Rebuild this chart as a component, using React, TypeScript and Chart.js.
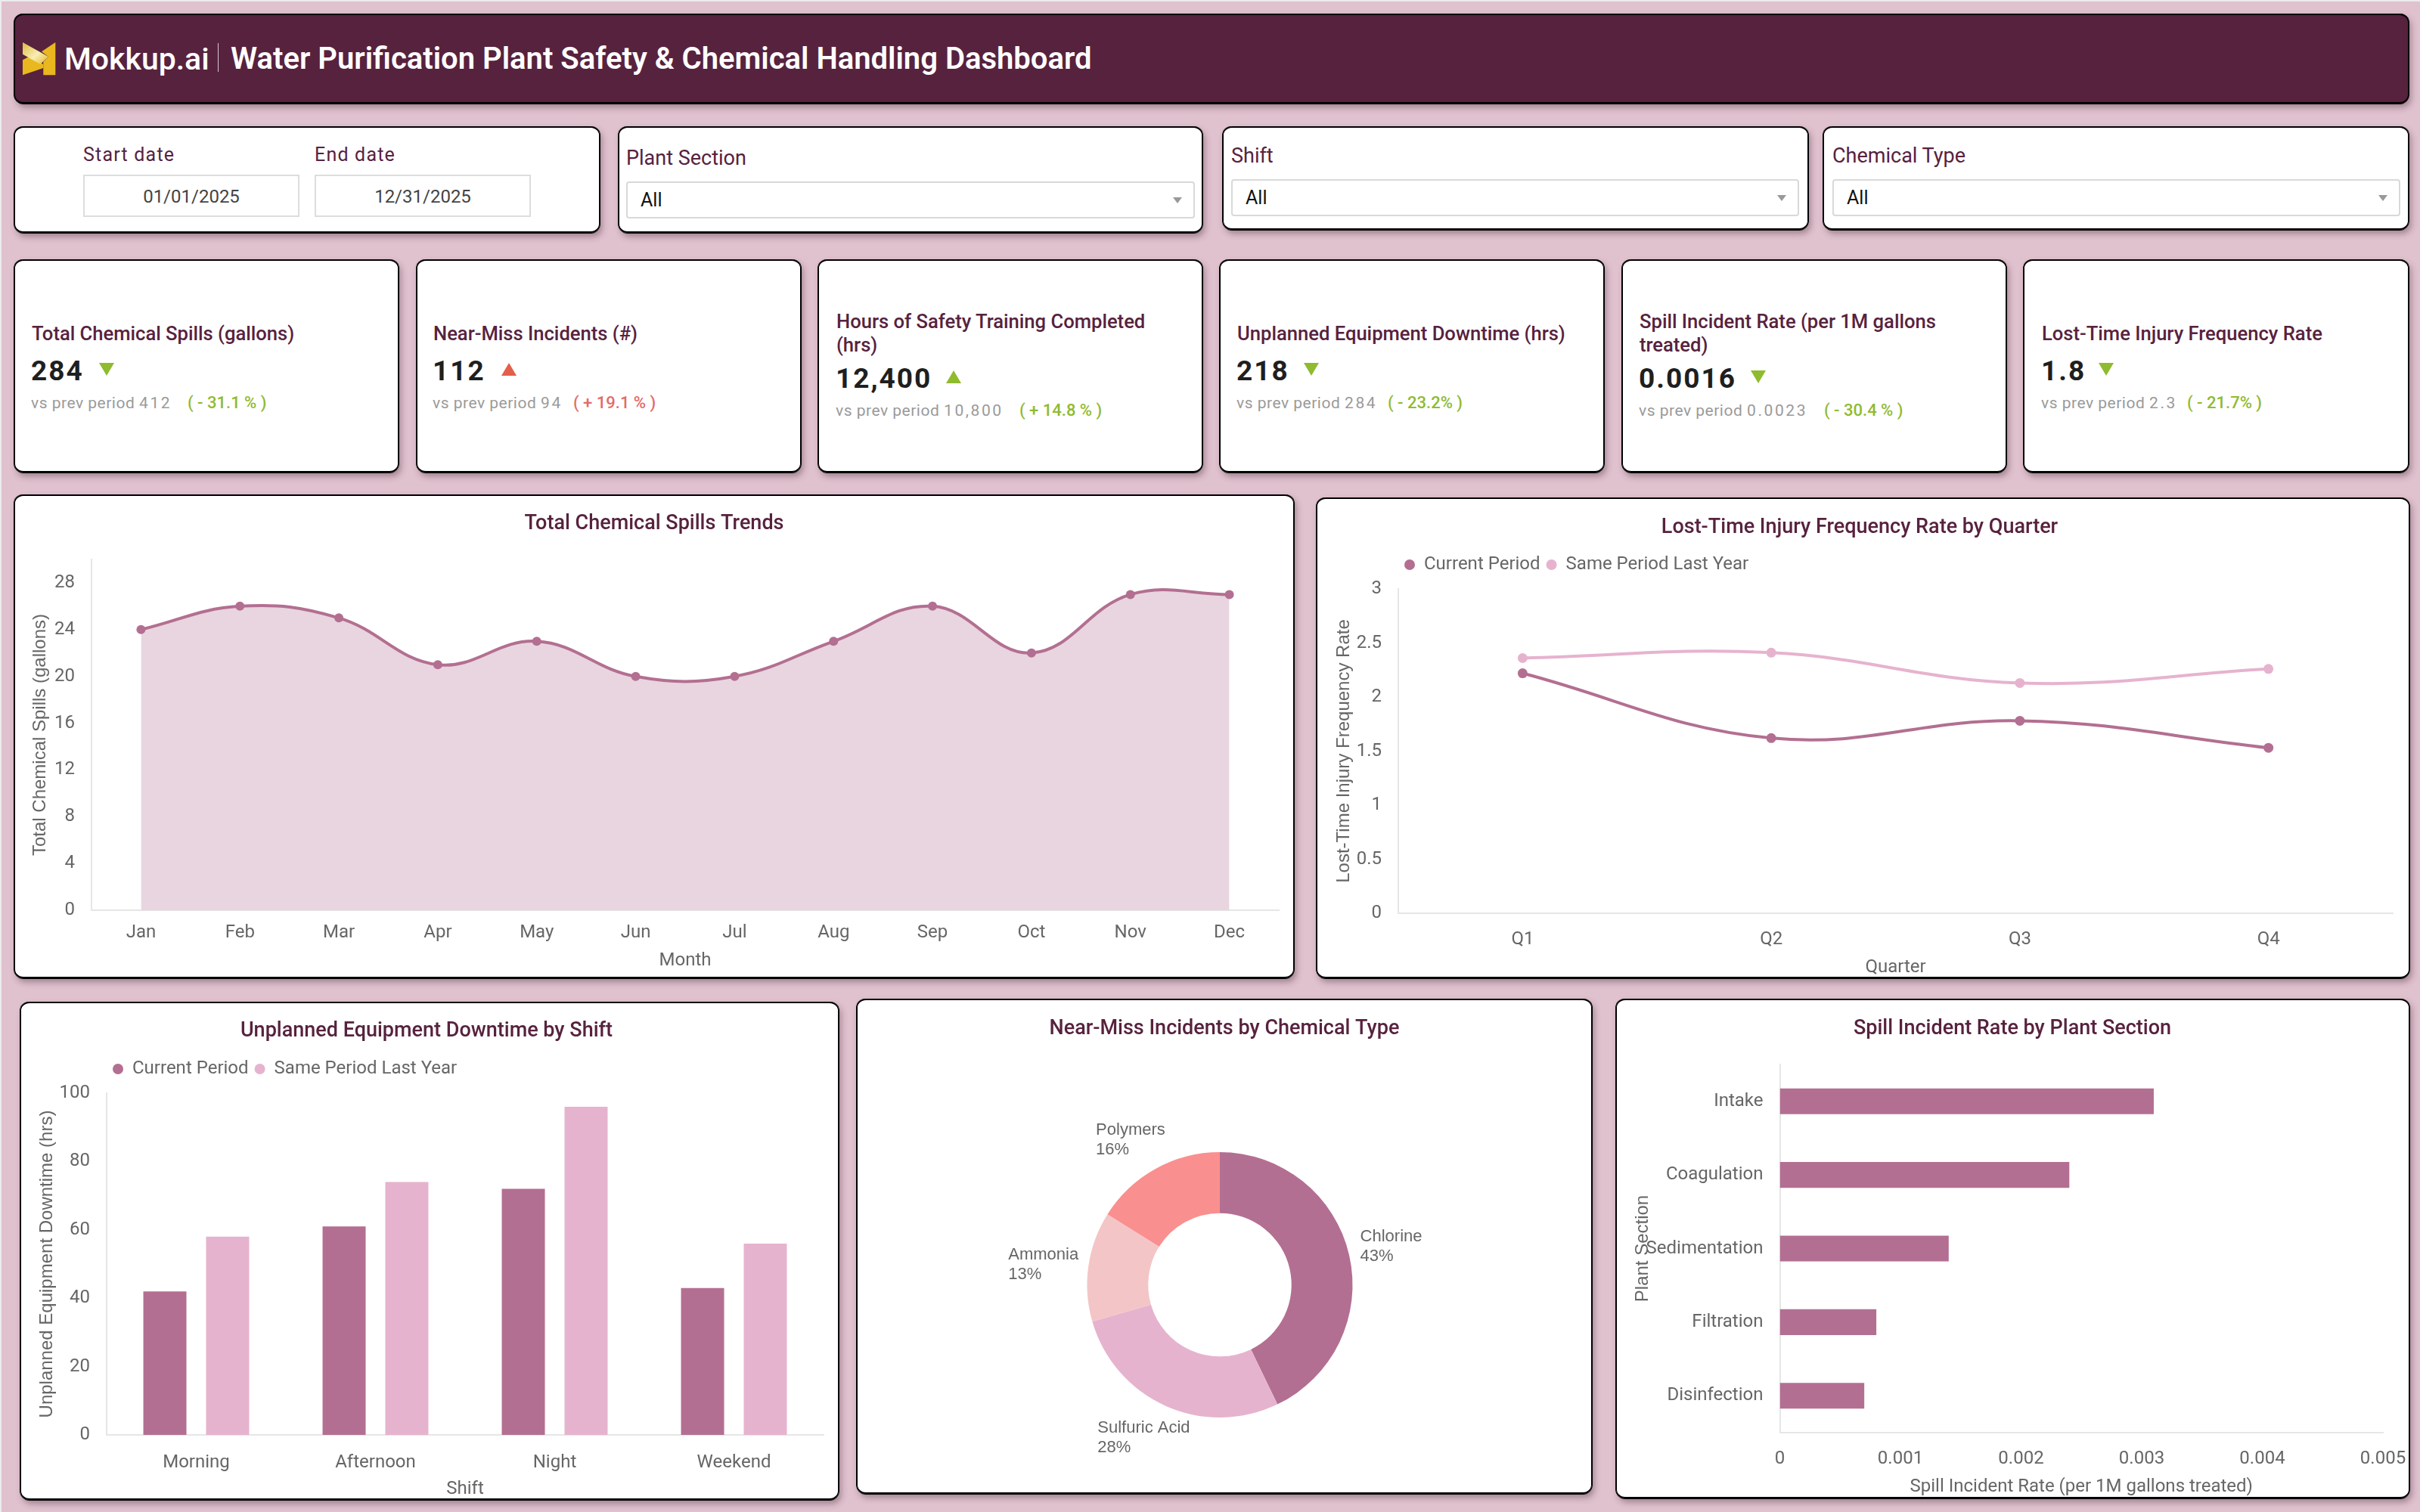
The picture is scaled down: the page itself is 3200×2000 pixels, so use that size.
import { useEffect, useRef } from "react"
import { Chart, registerables } from "chart.js"

Chart.register(...registerables)
Chart.defaults.font.family = "Roboto"

// chart data
const months = ["Jan", "Feb", "Mar", "Apr", "May", "Jun", "Jul", "Aug", "Sep", "Oct", "Nov", "Dec"]
const monthlySpills = [24, 26, 25, 21, 23, 20, 20, 23, 26, 22, 27, 27]
const spillTicks = [0, 4, 8, 12, 16, 20, 24, 28]

const quarters = ["Q1", "Q2", "Q3", "Q4"]
const ltifrCurrent = [2.22, 1.62, 1.78, 1.53]
const ltifrLastYear = [2.36, 2.41, 2.13, 2.26]
const ltifrTicks = [0, 0.5, 1, 1.5, 2, 2.5, 3]

const shifts = ["Morning", "Afternoon", "Night", "Weekend"]
const downtimeCurrent = [42, 61, 72, 43]
const downtimeLastYear = [58, 74, 96, 56]
const downtimeTicks = [0, 20, 40, 60, 80, 100]

const chemicals = ["Chlorine", "Sulfuric Acid", "Ammonia", "Polymers"]
const nearMisses = [48, 31, 15, 18]

const sections = ["Intake", "Coagulation", "Sedimentation", "Filtration", "Disinfection"]
const sectionRates = [0.0031, 0.0024, 0.0014, 0.0008, 0.0007]
const rateTicks = [0, 0.001, 0.002, 0.003, 0.004, 0.005]

const PLUM = "#b36f91"
const PINK = "#e6b3ce"
const DARK = "#57223e"
const GREY = "#666666"

const kpis = [
  { x: 19, title: ["Total Chemical Spills (gallons)"], value: "284", up: false, bad: false, prev: "412", delta: "( - 31.1 % )", pad: 23, triX: 131, deltaX: 248 },
  { x: 551, title: ["Near-Miss Incidents (#)"], value: "112", up: true, bad: true, prev: "94", delta: "( + 19.1 % )", pad: 22, triX: 663, deltaX: 758 },
  { x: 1082, title: ["Hours of Safety Training Completed", "(hrs)"], value: "12,400", up: true, bad: false, prev: "10,800", delta: "( + 14.8 % )", pad: 24, triX: 1251, deltaX: 1348 },
  { x: 1613, title: ["Unplanned Equipment Downtime (hrs)"], value: "218", up: false, bad: false, prev: "284", delta: "( - 23.2% )", pad: 23, triX: 1724, deltaX: 1835 },
  { x: 2145, title: ["Spill Incident Rate (per 1M gallons", "treated)"], value: "0.0016", up: false, bad: false, prev: "0.0023", delta: "( - 30.4 % )", pad: 23, triX: 2315, deltaX: 2412 },
  { x: 2676, title: ["Lost-Time Injury Frequency Rate"], value: "1.8", up: false, bad: false, prev: "2.3", delta: "( - 21.7% )", pad: 24, triX: 2775, deltaX: 2892 },
]

const selects = [
  { box: [818, 167, 772, 141], label: "Plant Section", labelY: 209, field: [828, 240, 752, 49] },
  { box: [1617, 167, 774, 137], label: "Shift", labelY: 206, field: [1628, 237, 751, 49] },
  { box: [2411, 167, 774, 137], label: "Chemical Type", labelY: 206, field: [2423, 237, 751, 49] },
]

const cardStyle = (b: number[]): React.CSSProperties => ({
  position: "absolute",
  left: b[0],
  top: b[1],
  width: b[2],
  height: b[3],
  background: "#fff",
  borderRadius: 12,
  boxShadow: "inset 0 2px 0 #000, inset 0 -2px 0 #000, inset 1px 0 0 #000, inset -1px 0 0 #000, 1px 0 0 #000, -1px 0 0 #000, 0 1px 0 #000, 3px 5px 8px rgba(80,50,65,0.45)",
})

const textAt = (x: number, y: number, size: number, color: string, extra: React.CSSProperties = {}): React.CSSProperties => ({
  position: "absolute",
  left: x,
  top: y - size,
  height: size * 2,
  lineHeight: `${size * 2}px`,
  fontSize: size,
  color,
  whiteSpace: "nowrap",
  fontFamily: "Roboto",
  ...extra,
})

function axisFrame(p: any) {
  const [cx, cy, cw, ch] = p.card
  const [pl, pt, pr, pb] = p.plot
  const right = cx + cw - pr
  const left = 2 * (p.titleX - cx) - cw + right
  const yWidth = pl - cx - left
  const xHeight = cy + ch - pb
  const axisTitle = { size: 24, lineHeight: 1.2 }
  const x = {
    grid: { display: false, drawTicks: false },
    border: { color: "#e6e6e6", width: 2 },
    ticks: { color: GREY, font: { size: 24 }, padding: p.xPad, autoSkip: false, maxRotation: 0 },
    title: {
      display: true,
      text: p.xTitle,
      color: GREY,
      font: { ...axisTitle },
      padding: { top: 0, bottom: cy + ch - p.xTitleY - 14.4 },
    },
    afterFit: (s: any) => {
      s.height = xHeight
      s.paddingLeft = 0
      s.paddingRight = 0
    },
  }
  const y = {
    grid: { display: false, drawTicks: false },
    border: { color: "#e6e6e6", width: 2 },
    ticks: { color: GREY, font: { size: 24 }, padding: p.yPad, autoSkip: false },
    title: {
      display: true,
      text: p.yTitle,
      color: GREY,
      font: { ...axisTitle, family: "Liberation Sans" },
      padding: { top: p.yTitleX - cx - left - 14.4, bottom: 0 },
    },
    afterFit: (s: any) => { s.width = yWidth },
  }
  const title = {
    display: true,
    text: p.title,
    color: DARK,
    font: { size: 27, weight: "500", lineHeight: 1 },
    padding: { top: p.titleY - cy - 14, bottom: (p.legendY ? p.legendY - 20 : pt) - p.titleY - 14 },
  }
  return { layout: { padding: { left, right, top: 0, bottom: 0 } }, x, y, title }
}

const fixedTicks = (values: number[]) => ({
  afterBuildTicks: (s: any) => { s.ticks = values.map((value) => ({ value })) },
})

const legendOptions = {
  display: true,
  position: "top",
  align: "start",
  fullSize: false,
  labels: { usePointStyle: true, pointStyle: "circle", boxHeight: 10, pointStyleWidth: 14, padding: 8, color: GREY, font: { size: 24 } },
}

// legend keeps a gap under it
const legendGap = (extra: number) => ({
  id: "legendGap",
  beforeInit(chart: any) {
    const fit = chart.legend.fit
    chart.legend.fit = function () {
      fit.call(this)
      this.height += extra
    }
  },
})

const spillsFrame = axisFrame({
  card: [19, 654, 1692, 640], plot: [121, 741, 1691, 1204], title: "Total Chemical Spills Trends", titleX: 865, titleY: 694,
  xTitle: "Month", yTitle: "Total Chemical Spills (gallons)", xTitleY: 1271, yTitleX: 53, xPad: 16, yPad: 22,
})
const ltifrFrame = axisFrame({
  card: [1741, 658, 1445, 636], plot: [1849, 778, 3164, 1208], title: "Lost-Time Injury Frequency Rate by Quarter", titleX: 2459, titleY: 699, legendY: 748,
  xTitle: "Quarter", yTitle: "Lost-Time Injury Frequency Rate", xTitleY: 1280, yTitleX: 1777, xPad: 21, yPad: 22,
})
const downtimeFrame = axisFrame({
  card: [27, 1325, 1082, 659], plot: [141, 1445, 1089, 1898], title: "Unplanned Equipment Downtime by Shift", titleX: 564, titleY: 1365, legendY: 1415,
  xTitle: "Shift", yTitle: "Unplanned Equipment Downtime (hrs)", xTitleY: 1970, yTitleX: 62, xPad: 23, yPad: 22,
})
const rateFrame = axisFrame({
  card: [2137, 1321, 1049, 661], plot: [2353.5, 1409, 3151, 1895], title: "Spill Incident Rate by Plant Section", titleX: 2661, titleY: 1362,
  xTitle: "Spill Incident Rate (per 1M gallons treated)", yTitle: "Plant Section", xTitleY: 1967, yTitleX: 2172, xPad: 21, yPad: 22,
})

const base = { responsive: false, animation: false, devicePixelRatio: 1 }

function spillsConfig() {
  const f = spillsFrame
  return {
    type: "line",
    data: {
      labels: months,
      datasets: [{
        label: "Total Chemical Spills (gallons)",
        data: monthlySpills,
        borderColor: PLUM,
        backgroundColor: "#e8d5df",
        borderWidth: 4,
        fill: "origin",
        tension: 0.4,
        pointRadius: 6,
        pointBackgroundColor: PLUM,
        pointBorderWidth: 0,
      }],
    },
    options: {
      ...base,
      layout: f.layout,
      plugins: { title: f.title, legend: { display: false }, tooltip: { enabled: false } },
      scales: {
        x: { ...f.x, offset: true },
        y: { ...f.y, min: 0, max: 30, ...fixedTicks(spillTicks) },
      },
    },
  }
}

function ltifrConfig() {
  const f = ltifrFrame
  const line = { borderWidth: 4, tension: 0.4, fill: false, pointRadius: 6.5, pointBorderWidth: 0 }
  return {
    type: "line",
    data: {
      labels: quarters,
      datasets: [
        { ...line, label: "Current Period", data: ltifrCurrent, borderColor: PLUM, backgroundColor: PLUM, pointBackgroundColor: PLUM },
        { ...line, label: "Same Period Last Year", data: ltifrLastYear, borderColor: PINK, backgroundColor: PINK, pointBackgroundColor: PINK },
      ],
    },
    options: {
      ...base,
      layout: f.layout,
      plugins: { title: f.title, legend: legendOptions, tooltip: { enabled: false } },
      scales: {
        x: { ...f.x, offset: true },
        y: { ...f.y, min: 0, max: 3, ...fixedTicks(ltifrTicks), ticks: { ...f.y.ticks, callback: (v: any) => String(v) } },
      },
    },
    plugins: [legendGap(10)],
  }
}

function downtimeConfig() {
  const f = downtimeFrame
  const bar = { categoryPercentage: 0.7, barPercentage: 0.687, borderWidth: 0 }
  return {
    type: "bar",
    data: {
      labels: shifts,
      datasets: [
        { ...bar, label: "Current Period", data: downtimeCurrent, backgroundColor: PLUM },
        { ...bar, label: "Same Period Last Year", data: downtimeLastYear, backgroundColor: PINK },
      ],
    },
    options: {
      ...base,
      layout: f.layout,
      plugins: { title: f.title, legend: legendOptions, tooltip: { enabled: false } },
      scales: {
        x: f.x,
        y: { ...f.y, min: 0, max: 100, ...fixedTicks(downtimeTicks) },
      },
    },
    plugins: [legendGap(10)],
  }
}

// label offset from the outer middle of each slice
const sliceLabelOffsets = [[14.5, -12], [-90, 42], [-106, -2], [-79, -38]]

const sliceLabels = {
  id: "sliceLabels",
  afterLayout(chart: any) {
    chart.chartArea.left -= 6
    chart.chartArea.right -= 6
  },
  afterDatasetsDraw(chart: any) {
    const { ctx } = chart
    const total = nearMisses.reduce((a, b) => a + b, 0)
    ctx.save()
    ctx.font = "22px 'Liberation Sans'"
    ctx.fillStyle = GREY
    ctx.textBaseline = "middle"
    chart.getDatasetMeta(0).data.forEach((arc: any, i: number) => {
      const mid = (arc.startAngle + arc.endAngle) / 2
      const x = arc.x + Math.cos(mid) * arc.outerRadius + sliceLabelOffsets[i][0]
      const y = arc.y + Math.sin(mid) * arc.outerRadius + sliceLabelOffsets[i][1]
      ctx.fillText(chemicals[i], x, y - 13)
      ctx.fillText(`${Math.round((nearMisses[i] / total) * 100)}%`, x, y + 13)
    })
    ctx.restore()
  },
}

function nearMissConfig() {
  return {
    type: "doughnut",
    data: {
      labels: chemicals,
      datasets: [{ data: nearMisses, backgroundColor: [PLUM, PINK, "#f4c5c6", "#fa8f8f"], borderWidth: 0 }],
    },
    options: {
      ...base,
      cutout: "54%",
      layout: { padding: { left: 0, right: 0, top: 0, bottom: 101 } },
      plugins: {
        legend: { display: false },
        tooltip: { enabled: false },
        title: {
          display: true,
          text: "Near-Miss Incidents by Chemical Type",
          color: DARK,
          font: { size: 27, weight: "500", lineHeight: 1 },
          padding: { top: 27, bottom: 149 },
        },
      },
    },
    plugins: [sliceLabels],
  }
}

function rateConfig() {
  const f = rateFrame
  return {
    type: "bar",
    data: {
      labels: sections,
      datasets: [{ label: "Spill Incident Rate", data: sectionRates, backgroundColor: PLUM, barPercentage: 0.35, categoryPercentage: 1, borderWidth: 0 }],
    },
    options: {
      ...base,
      indexAxis: "y",
      layout: f.layout,
      plugins: { title: f.title, legend: { display: false }, tooltip: { enabled: false } },
      scales: {
        x: { ...f.x, min: 0, max: 0.005, ...fixedTicks(rateTicks), ticks: { ...f.x.ticks, callback: (v: any) => String(v) } },
        y: f.y,
      },
    },
  }
}

function ChartCard({ box, build }: { box: number[]; build: () => any }) {
  const ref = useRef<HTMLCanvasElement>(null)

  useEffect(() => {
    if (!ref.current) return
    const chart = new Chart(ref.current, build())
    return () => chart.destroy()
  }, [])

  return (
    <div style={cardStyle(box)}>
      <canvas ref={ref} width={box[2]} height={box[3]} style={{ position: "absolute", left: 0, top: 0, width: box[2], height: box[3] }} />
    </div>
  )
}

function Triangle({ x, y, up, color }: { x: number; y: number; up: boolean; color: string }) {
  return (
    <svg style={{ position: "absolute", left: x, top: y }} width={20} height={17}>
      <polygon points={up ? "10,0 20,17 0,17" : "0,0 20,0 10,17"} fill={color} />
    </svg>
  )
}

function KpiCard({ kpi }: { kpi: (typeof kpis)[number] }) {
  const twoLines = kpi.title.length > 1
  const left = kpi.x + kpi.pad
  const valueY = twoLines ? 501 : 491
  const subY = twoLines ? 543 : 533
  const triColor = kpi.bad ? "#e2604a" : "#8fbb2f"
  return (
    <>
      <div style={cardStyle([kpi.x, 343, kpi.x === 2676 ? 509 : 508, 282])} />
      {kpi.title.map((t, i) => (
        <div key={t} style={textAt(left, (twoLines ? 426 : 442) + i * 31, 25.6, DARK, { fontWeight: 500 })}>{t}</div>
      ))}
      <div style={textAt(left - 1, valueY, 37, "#1f1f1f", { fontWeight: 700, letterSpacing: 2 })}>{kpi.value}</div>
      <Triangle x={kpi.triX} y={valueY - 11} up={kpi.up} color={triColor} />
      <div style={textAt(left - 1, subY, 21, "#9a9a9a", { letterSpacing: 0.5 })}>
        vs prev period <span style={{ letterSpacing: 2.6 }}>{kpi.prev}</span>
      </div>
      <div style={textAt(kpi.deltaX, subY, 22, kpi.bad ? "#e46a6a" : "#8fbb2f", { fontWeight: 500 })}>{kpi.delta}</div>
    </>
  )
}

function SelectCard({ s }: { s: (typeof selects)[number] }) {
  const [fx, fy, fw, fh] = s.field
  return (
    <>
      <div style={cardStyle(s.box)} />
      <div style={textAt(fx, s.labelY, 27, DARK)}>{s.label}</div>
      <div style={{ position: "absolute", left: fx, top: fy, width: fw, height: fh, boxSizing: "border-box", border: "2px solid #d9d9d9", borderRadius: 4, background: "#fff" }} />
      <div style={textAt(fx + 19, fy + 25, 25, "#111")}>All</div>
      <svg style={{ position: "absolute", left: fx + fw - 29, top: fy + 21 }} width={12} height={8}>
        <polygon points="0,0 12,0 6,8" fill="#999" />
      </svg>
    </>
  )
}

function DateField({ x, label, value }: { x: number; label: string; value: string }) {
  return (
    <>
      <div style={textAt(x, 205, 25, DARK, { letterSpacing: 1.2 })}>{label}</div>
      <div style={{ ...textAt(x, 259, 24, "#444"), top: 231, height: 56, lineHeight: "54px", width: 286, boxSizing: "border-box", border: "2px solid #dddddd", textAlign: "center" }}>{value}</div>
    </>
  )
}

export default function App() {
  return (
    <div style={{ position: "absolute", left: 0, top: 0, width: 3200, height: 2000, overflow: "hidden", background: "#ececec" }}>
      <div style={{ position: "absolute", left: 2, top: 2, width: 3198, height: 1998, background: "#e0c1ce" }} />

      <div style={{ ...cardStyle([19, 18, 3166, 119]), background: DARK }} />
      <svg style={{ position: "absolute", left: 30, top: 56 }} width={45} height={44}>
        <defs>
          <linearGradient id="ribbon" x1="0" y1="0" x2="1" y2="1">
            <stop offset="0" stopColor="#dcbc3c" />
            <stop offset="0.55" stopColor="#f8edb4" />
            <stop offset="1" stopColor="#e3b722" />
          </linearGradient>
        </defs>
        <polygon points="43.3,0 25,12.3 34,19 27.3,25.7 27.3,43.3 43.3,43.3" fill="#e9b81f" />
        <polygon points="0,23.3 8.3,19 27.3,29 27.3,34 0,43.3" fill="#e9b81f" />
        <polygon points="0,0 34,19 23.3,29 0,15.7" fill="url(#ribbon)" />
      </svg>
      <div style={textAt(85, 78, 41, "#fff", { fontWeight: 500 })}>Mokkup.ai</div>
      <div style={{ position: "absolute", left: 288, top: 57, width: 1, height: 38, background: "#d9c6d0" }} />
      <div style={textAt(305, 78, 40, "#fff", { fontWeight: 600 })}>Water Purification Plant Safety &amp; Chemical Handling Dashboard</div>

      <div style={cardStyle([19, 167, 774, 141])} />
      <DateField x={110} label="Start date" value="01/01/2025" />
      <DateField x={416} label="End date" value="12/31/2025" />
      {selects.map((s) => <SelectCard key={s.label} s={s} />)}

      {kpis.map((k) => <KpiCard key={k.value} kpi={k} />)}

      <ChartCard box={[19, 654, 1692, 640]} build={spillsConfig} />
      <ChartCard box={[1741, 658, 1445, 636]} build={ltifrConfig} />
      <ChartCard box={[27, 1325, 1082, 659]} build={downtimeConfig} />
      <ChartCard box={[1133, 1321, 972, 655]} build={nearMissConfig} />
      <ChartCard box={[2137, 1321, 1049, 661]} build={rateConfig} />
    </div>
  )
}
